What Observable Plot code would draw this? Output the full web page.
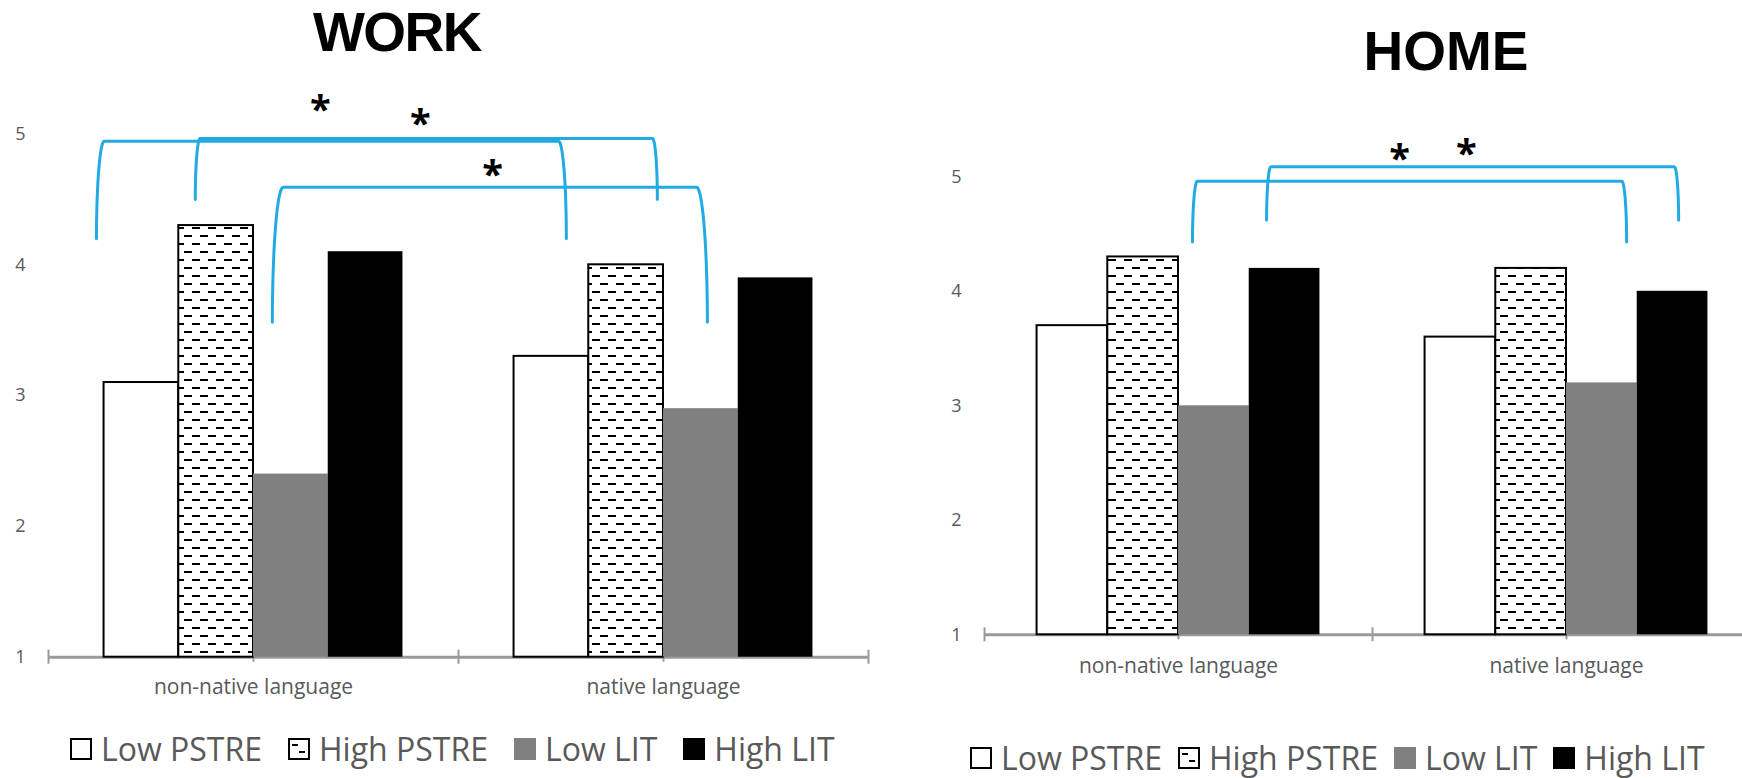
<!DOCTYPE html>
<html>
<head>
<meta charset="utf-8">
<script src="https://cdn.jsdelivr.net/npm/d3@7"></script>
<script src="https://cdn.jsdelivr.net/npm/@observablehq/plot@0.6"></script>
<style>
  html, body { margin: 0; padding: 0; width: 1742px; height: 778px; overflow: hidden; background: #fff; font-family: "Open Sans", sans-serif; }
  .panel { position: absolute; top: 0; }
  .panel svg { max-width: none !important; }
  .title { position: absolute; width: 400px; text-align: center; font-family: "Liberation Sans", Arial, sans-serif; font-weight: 700; font-size: 55px; line-height: 1; color: #000; }
  .legend { position: absolute; display: flex; align-items: center; font-size: 32px; line-height: 1; color: #595959; white-space: nowrap; }
  .legend .item { display: flex; align-items: center; }
  .legend svg { display: block; }
</style>
</head>
<body>
<svg width="0" height="0" style="position:absolute">
  <defs>
    <pattern id="dashH" patternUnits="userSpaceOnUse" width="16" height="16">
      <rect width="16" height="16" fill="#fff"/>
      <rect x="0" y="3" width="8" height="2" fill="#000"/>
      <rect x="8" y="11" width="8" height="2" fill="#000"/>
    </pattern>
  </defs>
</svg>
<div id="work" class="panel" style="left:0px; width:900px"></div>
<div id="home" class="panel" style="left:900px; width:880px"></div>
<div class="title" style="left:197px; top:5px; letter-spacing:-1.5px">WORK</div>
<div class="title" style="left:1246px; top:24px">HOME</div>
<div id="legendWork" class="legend" style="left:70px; top:733px"></div>
<div id="legendHome" class="legend" style="left:970px; top:742px"></div>
<script>
// ---------- data ----------
const categories = ["non-native language", "native language"];
const seriesNames = ["Low PSTRE", "High PSTRE", "Low LIT", "High LIT"];
const yTicks = [1, 2, 3, 4, 5];

const workLowPSTRE  = [3.1, 3.3];
const workHighPSTRE = [4.3, 4.0];
const workLowLIT    = [2.4, 2.9];
const workHighLIT   = [4.1, 3.9];

const homeLowPSTRE  = [3.7, 3.6];
const homeHighPSTRE = [4.3, 4.2];
const homeLowLIT    = [3.0, 3.2];
const homeHighLIT   = [4.2, 4.0];

// significance brackets (x in category-group units, y in scale units)
const workBrackets = [
  {xLeft: 0.117, xRight: 1.263, yBottom: 4.20, yTop: 4.945},
  {xLeft: 0.358, xRight: 1.485, yBottom: 4.50, yTop: 4.966},
  {xLeft: 0.546, xRight: 1.607, yBottom: 3.56, yTop: 4.593}
];
const workStars = [{x: 0.663, y: 5.243}, {x: 0.907, y: 5.137}, {x: 1.083, y: 4.746}];

const homeBrackets = [
  {xLeft: 0.536, xRight: 1.655, yBottom: 4.43, yTop: 4.962},
  {xLeft: 0.727, xRight: 1.789, yBottom: 4.62, yTop: 5.087}
];
const homeStars = [{x: 1.070, y: 5.23}, {x: 1.242, y: 5.27}];

// ---------- styles ----------
const seriesStyle = [
  {fill: "#ffffff", stroke: "#000000"},
  {fill: "url(#dashH)", stroke: "#000000"},
  {fill: "#808080", stroke: "none"},
  {fill: "#000000", stroke: "none"}
];
const bracketColor = "#21ABE2";
const axisGray = "#9a9a9a";

function chart({values, brackets, stars, width, height, marginLeft, marginRight, marginTop, marginBottom, labelPad}) {
  const groupPad = 0.1355;
  const barW = (1 - 2 * groupPad) / seriesNames.length;
  const y0 = yTicks[0], y1 = yTicks[yTicks.length - 1];
  const xPx = (width - marginLeft - marginRight) / categories.length;
  const yPx = (height - marginTop - marginBottom) / (y1 - y0);
  const k = yPx / xPx;

  const rows = [];
  values.forEach((arr, s) => arr.forEach((v, g) => rows.push({s, g, v})));

  const pts = [];
  brackets.forEach((b, id) => {
    const rx = 0.08 * (b.yTop - b.yBottom) * k;
    const n = 20;
    for (let i = 0; i <= n; i++) {
      const t = i / n * Math.PI / 2;
      pts.push({id, x: b.xLeft + rx * (1 - Math.cos(t)), y: b.yBottom + (b.yTop - b.yBottom) * Math.sin(t)});
    }
    for (let i = n; i >= 0; i--) {
      const t = i / n * Math.PI / 2;
      pts.push({id, x: b.xRight - rx * (1 - Math.cos(t)), y: b.yBottom + (b.yTop - b.yBottom) * Math.sin(t)});
    }
  });

  const bounds = d3.range(categories.length + 1);
  const centers = categories.map((_, i) => i + 0.5);

  const barMarks = seriesNames.map((name, s) =>
    Plot.rect(rows.filter(r => r.s === s), {
      x1: r => r.g + groupPad + r.s * barW,
      x2: r => r.g + groupPad + (r.s + 1) * barW,
      y1: y0,
      y2: r => r.v,
      fill: seriesStyle[s].fill,
      stroke: seriesStyle[s].stroke,
      strokeWidth: 2
    })
  );

  return Plot.plot({
    width, height, marginLeft, marginRight, marginTop, marginBottom,
    style: {fontFamily: '"Open Sans", sans-serif', color: "#595959", background: "transparent", overflow: "visible", maxWidth: "none"},
    x: {type: "linear", domain: [0, categories.length], axis: null},
    y: {domain: [y0, y1], axis: null},
    marks: [
      Plot.ruleX(centers, {x: d => d, y1: y0, y2: y0 - 5 / yPx, stroke: axisGray, strokeWidth: 2}),
      Plot.ruleY([y0], {x1: 0, x2: categories.length, stroke: axisGray, strokeWidth: 3}),
      Plot.ruleX(bounds, {x: d => d, y1: y0 - 7 / yPx, y2: y0 + 7 / yPx, stroke: axisGray, strokeWidth: 2}),
      ...barMarks,
      Plot.line(pts, {x: "x", y: "y", z: "id", stroke: bracketColor, strokeWidth: 3, curve: "linear"}),
      Plot.text(stars, {x: "x", y: "y", text: () => "*", fontSize: 38, fontWeight: "bold", fill: "#000", dy: 9}),
      Plot.axisY({ticks: yTicks, tickSize: 0, tickPadding: 23, fontSize: 18, label: null, tickFormat: d3.format("d")}),
      Plot.axisX({ticks: centers, tickSize: 0, tickPadding: labelPad, fontSize: 21, label: null, tickFormat: d => categories[Math.floor(d)]})
    ]
  });
}

document.getElementById("work").append(chart({
  values: [workLowPSTRE, workHighPSTRE, workLowLIT, workHighLIT],
  brackets: workBrackets, stars: workStars,
  width: 900, height: 710, marginLeft: 48, marginRight: 32, marginTop: 133.5, marginBottom: 53.3, labelPad: 22
}));
document.getElementById("home").append(chart({
  values: [homeLowPSTRE, homeHighPSTRE, homeLowLIT, homeHighLIT],
  brackets: homeBrackets, stars: homeStars,
  width: 880, height: 680, marginLeft: 84, marginRight: 20, marginTop: 176.3, marginBottom: 45.7, labelPad: 23
}));

function swatch(s) {
  const ns = "http://www.w3.org/2000/svg";
  const svg = document.createElementNS(ns, "svg");
  svg.setAttribute("width", 22); svg.setAttribute("height", 22);
  const r = document.createElementNS(ns, "rect");
  const st = seriesStyle[s];
  r.setAttribute("x", 1); r.setAttribute("y", 1); r.setAttribute("width", 20); r.setAttribute("height", 20);
  r.setAttribute("fill", s === 1 ? "#fff" : st.fill);
  r.setAttribute("stroke", st.stroke === "none" ? st.fill : st.stroke);
  r.setAttribute("stroke-width", 2);
  svg.append(r);
  if (s === 1) {
    [[4, 6, 6], [11, 13, 6]].forEach(([x, y, w]) => {
      const d = document.createElementNS(ns, "rect");
      d.setAttribute("x", x); d.setAttribute("y", y); d.setAttribute("width", w); d.setAttribute("height", 2);
      d.setAttribute("fill", "#000");
      svg.append(d);
    });
  }
  return svg;
}
function legend(el, gap) {
  seriesNames.forEach((name, s) => {
    const item = document.createElement("div");
    item.className = "item";
    item.style.marginRight = s < seriesNames.length - 1 ? gap + "px" : "0px";
    const t = document.createElement("span");
    t.textContent = name;
    t.style.marginLeft = "9px";
    item.append(swatch(s), t);
    el.append(item);
  });
}
legend(document.getElementById("legendWork"), 26);
legend(document.getElementById("legendHome"), 16);
</script>
</body>
</html>
